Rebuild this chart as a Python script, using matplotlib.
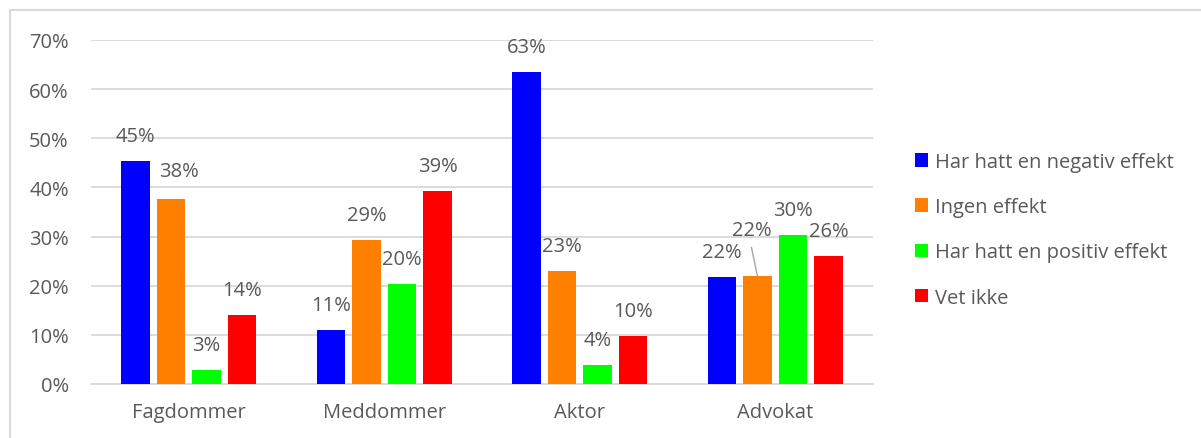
import matplotlib
matplotlib.use("Agg")
import matplotlib.pyplot as plt
import numpy as np

# ── Data ──────────────────────────────────────────────────────────────────────
categories = ["Fagdommer", "Meddommer", "Aktor", "Advokat"]
series = ["Har hatt en negativ effekt", "Ingen effekt",
          "Har hatt en positiv effekt", "Vet ikke"]
negativ = [45.3, 10.9, 63.5, 21.7]
ingen   = [37.7, 29.3, 23.0, 21.9]
positiv = [2.9, 20.4, 3.8, 30.4]
vetikke = [14.1, 39.3, 9.7, 26.1]
labels = [["45%", "11%", "63%", "22%"],
          ["38%", "29%", "23%", "22%"],
          ["3%", "20%", "4%", "30%"],
          ["14%", "39%", "10%", "26%"]]
values = [negativ, ingen, positiv, vetikke]

# ── Style ─────────────────────────────────────────────────────────────────────
colors = ["#0000FF", "#FF7F00", "#00FF00", "#FF0000"]
TXT = "#595959"
GRID = "#D9D9D9"
FS = 14.5
plt.rcParams["font.family"] = ["Open Sans", "DejaVu Sans"]

# label offsets in pixels (dx, dy) from bar top centre
offsets = {(1, 0): (8, 28), (1, 3): (-6, 46)}

fig = plt.figure(figsize=(12.01, 4.39), dpi=100)
ax = fig.add_axes([91 / 1201, 1 - 385 / 439, (873 - 91) / 1201, (385 - 41) / 439])

x = np.arange(len(categories))
step = 0.182
width = 0.145
for i, (vals, col, name) in enumerate(zip(values, colors, series)):
    xs = x + (i - 1.5) * step
    ax.bar(xs, vals, width=width, color=col, label=name, zorder=3)
    for j, (xx, v) in enumerate(zip(xs, vals)):
        dx, dy = offsets.get((i, j), (0, 25))
        if (i, j) == (1, 3):
            ax.annotate("", xy=(xx, v), xytext=(dx, dy - 17),
                        textcoords="offset pixels",
                        arrowprops=dict(arrowstyle="-", color="#A6A6A6", lw=1,
                                        shrinkA=0, shrinkB=0))
        ax.annotate(labels[i][j], (xx, v), xytext=(dx, dy),
                    textcoords="offset pixels", ha="center", va="center",
                    fontsize=FS, color=TXT, zorder=5)

ax.set_xlim(-0.5, 3.5)
ax.set_ylim(0, 70)
ax.set_yticks(range(0, 71, 10))
ax.set_yticklabels([f"{t}%" for t in range(0, 71, 10)])
ax.set_xticks(x)
ax.set_xticklabels(categories)
ax.yaxis.grid(True, color=GRID, lw=1.3, zorder=0)
ax.set_axisbelow(True)
for sp in ["top", "right", "left"]:
    ax.spines[sp].set_visible(False)
ax.spines["bottom"].set_color(GRID)
ax.spines["bottom"].set_linewidth(1.3)
ax.tick_params(length=0, colors=TXT, labelsize=FS)
ax.tick_params(axis="y", pad=16)
ax.tick_params(axis="x", pad=13)

leg = fig.legend(loc="upper left", bbox_to_anchor=(915 / 1201, 1 - 153 / 439),
                 frameon=False, fontsize=FS, labelcolor=TXT,
                 handlelength=0.65, handleheight=0.65, handletextpad=0.35,
                 labelspacing=1.25, borderaxespad=0, borderpad=0)

# outer chart frame (top and left edges visible)
fig.add_artist(plt.Line2D([10 / 1201, 1], [1 - 11 / 439] * 2,
                          transform=fig.transFigure, color=GRID, lw=1.5))
fig.add_artist(plt.Line2D([10 / 1201] * 2, [0, 1 - 11 / 439],
                          transform=fig.transFigure, color=GRID, lw=1.5))

fig.savefig("out.png", dpi=100, facecolor="white")
